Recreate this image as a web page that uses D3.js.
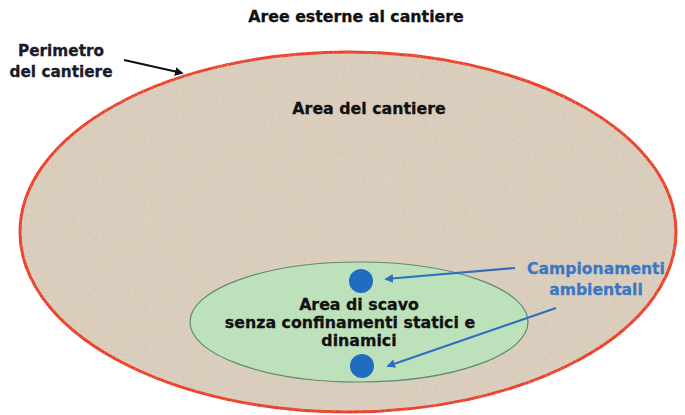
<!DOCTYPE html>
<meta charset="utf-8">
<style>
    * { margin: 0px; }
    body { background: #fff; }
    text {
        font-family: "DejaVu Sans", Verdana, sans-serif;
        font-weight: bold;
    }
</style>
<svg width="685" height="415"></svg>
<script src="https://d3js.org/d3.v7.min.js"></script>
<script>
    // zones: [name, cx, cy, rx, ry]
    var zones = [
        ["cantiere", 348, 232, 328, 180],
        ["scavo", 359, 322, 169, 60]
    ];
    var zoneFill = ["#dccfbe", "#bde2bb"];
    var zoneStroke = ["#ee3b24", "#5f8a72"];

    // sampling points
    var samples = [[361, 281], [362, 366]];

    // labels: [text, x, y]
    var titleLines = [["Aree esterne al cantiere", 356, 22]];
    var perimLines = [["Perimetro", 61, 56], ["del cantiere", 61, 77]];
    var areaLines = [["Area del cantiere", 369, 114]];
    var scavoLines = [["Area di scavo", 359, 310], ["senza confinamenti statici e", 350, 328], ["dinamici", 359, 346]];
    var campLines = [["Campionamenti", 596, 274], ["ambientali", 596, 295]];

    // arrows: [x1, y1, x2, y2]
    var blackArrows = [[124, 60, 182, 73]];
    var blueArrows = [[515, 268, 386, 279], [556, 308, 388, 366]];

    var svg = d3.select("svg"),
        width = 685,
        height = 415;

    var x = d3.scaleLinear().domain([0, 685]).range([0, width]);
    var y = d3.scaleLinear().domain([0, 415]).range([0, height]);

    var defs = svg.append("defs");
    defs.append("marker").attr("id", "headK")
        .attr("viewBox", "0 0 10 10").attr("refX", 8).attr("refY", 5)
        .attr("markerWidth", 4).attr("markerHeight", 4).attr("orient", "auto")
        .append("path").attr("d", "M0,0 L10,5 L0,10 z").attr("fill", "#111");
    defs.append("marker").attr("id", "headB")
        .attr("viewBox", "0 0 10 10").attr("refX", 8).attr("refY", 5)
        .attr("markerWidth", 4).attr("markerHeight", 4).attr("orient", "auto")
        .append("path").attr("d", "M0,0 L10,5 L0,10 z").attr("fill", "#2f6fc0");

    var f = defs.append("filter").attr("id", "grain");
    f.append("feTurbulence").attr("type", "fractalNoise").attr("baseFrequency", 0.9).attr("numOctaves", 2).attr("result", "n");
    f.append("feColorMatrix").attr("in", "n").attr("type", "matrix")
        .attr("values", "0 0 0 0 0.5  0 0 0 0 0.45  0 0 0 0 0.4  0 0 0 -1.2 0.62").attr("result", "m");
    f.append("feComposite").attr("in", "m").attr("in2", "SourceGraphic").attr("operator", "in").attr("result", "c");
    f.append("feMerge").selectAll("feMergeNode").data(["SourceGraphic", "c"]).enter()
        .append("feMergeNode").attr("in", function(d) { return d; });

    svg.append("g").selectAll("ellipse")
        .data(zones)
        .enter().append("ellipse")
        .attr("cx", function(d) { return x(d[1]); })
        .attr("cy", function(d) { return y(d[2]); })
        .attr("rx", function(d) { return x(d[3]) - x(0); })
        .attr("ry", function(d) { return y(d[4]) - y(0); })
        .attr("fill", function(d, i) { return zoneFill[i]; })
        .attr("stroke", function(d, i) { return zoneStroke[i]; })
        .attr("stroke-width", function(d, i) { return i == 0 ? 3 : 1.2; })
        .attr("filter", function(d, i) { return i == 0 ? "url(#grain)" : null; });

    svg.append("g").selectAll("circle")
        .data(samples)
        .enter().append("circle")
        .attr("cx", function(d) { return x(d[0]); })
        .attr("cy", function(d) { return y(d[1]); })
        .attr("r", 12)
        .attr("fill", "#1f6cc0");

    function arrows(data, color, marker) {
        svg.append("g").selectAll("line")
            .data(data)
            .enter().append("line")
            .attr("x1", function(d) { return x(d[0]); })
            .attr("y1", function(d) { return y(d[1]); })
            .attr("x2", function(d) { return x(d[2]); })
            .attr("y2", function(d) { return y(d[3]); })
            .attr("stroke", color)
            .attr("stroke-width", 2.2)
            .attr("marker-end", "url(#" + marker + ")");
    }
    arrows(blackArrows, "#111", "headK");
    arrows(blueArrows, "#2f6fc0", "headB");

    function labels(data, size, color) {
        svg.append("g").selectAll("text")
            .data(data)
            .enter().append("text")
            .attr("x", function(d) { return x(d[1]); })
            .attr("y", function(d) { return y(d[2]); })
            .attr("text-anchor", "middle")
            .style("font-size", size + "px")
            .attr("fill", color)
            .attr("stroke", color)
            .attr("stroke-width", 0.3)
            .text(function(d) { return d[0]; });
    }
    labels(titleLines, 15.8, "#111");
    labels(perimLines, 15.3, "#1a1a2a");
    labels(areaLines, 15.8, "#111");
    labels(scavoLines, 15.8, "#111");
    labels(campLines, 15.6, "#3b78c4");
</script>
